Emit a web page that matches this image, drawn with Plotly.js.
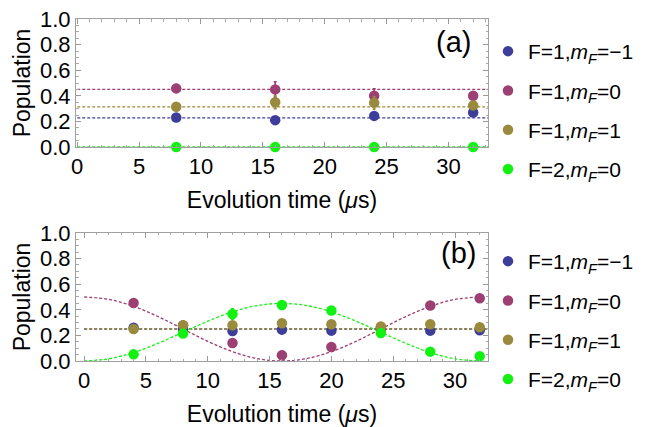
<!DOCTYPE html>
<html>
<head>
<meta charset="utf-8">
<script src="https://cdn.plot.ly/plotly-3.0.1.min.js"></script>
<style>html,body{margin:0;padding:0;background:#fff;}#chart{width:655px;height:427px;}</style>
</head>
<body>
<div id="chart"></div>
<script>
// ---------- data ----------
const seriesNames = ["F=1,<i>m</i><sub><i>F</i></sub>=\u22121", "F=1,<i>m</i><sub><i>F</i></sub>=0", "F=1,<i>m</i><sub><i>F</i></sub>=1", "F=2,<i>m</i><sub><i>F</i></sub>=0"];

// panel (a)
const aTime = [8, 16, 24, 32];
const aBlue = [0.23, 0.21, 0.243, 0.27];
const aMagenta = [0.458, 0.45, 0.40, 0.40];
const aOlive = [0.314, 0.35, 0.345, 0.325];
const aGreen = [0.0, 0.0, 0.0, 0.0];
const aBlueErr = [0.015, 0.01, 0.01, 0.01];
const aMagentaErr = [0.03, 0.06, 0.055, 0.01];
const aOliveErr = [0.015, 0.05, 0.05, 0.015];
const aGreenErr = [0.005, 0.005, 0.005, 0.005];
const aFitTime = [0, 33.2];
const aBlueFit = [0.228, 0.228];
const aMagentaFit = [0.45, 0.45];
const aOliveFit = [0.314, 0.314];
const aGreenFit = [0.0, 0.0];

// panel (b)
const bTime = [4, 8, 12, 16, 20, 24, 28, 32];
const bBlue = [0.26, 0.25, 0.234, 0.245, 0.237, 0.25, 0.237, 0.24];
const bMagenta = [0.453, 0.277, 0.14, 0.045, 0.11, 0.26, 0.433, 0.49];
const bOlive = [0.25, 0.28, 0.279, 0.295, 0.287, 0.27, 0.287, 0.263];
const bGreen = [0.052, 0.214, 0.367, 0.437, 0.394, 0.219, 0.073, 0.037];
const bBlueErr = [0.01, 0.01, 0.01, 0.01, 0.01, 0.01, 0.01, 0.01];
const bMagentaErr = [0.01, 0.01, 0.01, 0.03, 0.01, 0.01, 0.01, 0.01];
const bOliveErr = [0.01, 0.035, 0.01, 0.01, 0.01, 0.01, 0.01, 0.01];
const bGreenErr = [0.01, 0.01, 0.04, 0.01, 0.01, 0.01, 0.01, 0.01];
const bFlatTime = [0, 32.7];
const bBlueFit = [0.25, 0.25];
const bOliveFit = [0.25, 0.25];
const bCurveTime = [0, 2, 4, 6, 8, 10, 12, 14, 16, 18, 20, 22, 24, 26, 28, 30, 32];
const bMagentaFit = [0.5, 0.481, 0.427, 0.346, 0.25, 0.154, 0.073, 0.019, 0.0, 0.019, 0.073, 0.154, 0.25, 0.346, 0.427, 0.481, 0.5];
const bGreenFit = [0.0, 0.017, 0.066, 0.139, 0.225, 0.311, 0.384, 0.433, 0.45, 0.433, 0.384, 0.311, 0.225, 0.139, 0.066, 0.017, 0.0];

// ---------- styling ----------
const colors = ["#3d3d9a", "#9c3f72", "#9a8a3e", "#12f212"];
const FONT = "Liberation Sans, Arial, sans-serif";

function fitLine(x, y, c, xa, ya) {
  return {x: x, y: y, xaxis: xa, yaxis: ya, mode: "lines", type: "scatter",
    line: {color: c, width: 1.3, dash: "3px,2px", shape: "spline", smoothing: 1},
    showlegend: false, hoverinfo: "skip", cliponaxis: true};
}
function pts(x, y, err, c, name, xa, ya, leg, grp) {
  return {x: x, y: y, xaxis: xa, yaxis: ya, mode: "markers", type: "scatter", name: name,
    marker: {color: c, size: 10.5}, legend: leg, legendgroup: grp,
    error_y: {type: "data", array: err, visible: true, color: c, thickness: 1.6, width: 1.5},
    cliponaxis: false};
}

const traces = [
  fitLine(aFitTime, aBlueFit, colors[0], "x", "y"),
  fitLine(aFitTime, aMagentaFit, colors[1], "x", "y"),
  fitLine(aFitTime, aOliveFit, colors[2], "x", "y"),
  fitLine(aFitTime, aGreenFit, colors[3], "x", "y"),
  pts(aTime, aBlue, aBlueErr, colors[0], seriesNames[0], "x", "y", "legend", "a0"),
  pts(aTime, aMagenta, aMagentaErr, colors[1], seriesNames[1], "x", "y", "legend", "a1"),
  pts(aTime, aOlive, aOliveErr, colors[2], seriesNames[2], "x", "y", "legend", "a2"),
  pts(aTime, aGreen, aGreenErr, colors[3], seriesNames[3], "x", "y", "legend", "a3"),

  fitLine(bFlatTime, bBlueFit, colors[0], "x2", "y2"),
  fitLine(bCurveTime, bMagentaFit, colors[1], "x2", "y2"),
  fitLine(bFlatTime, bOliveFit, colors[2], "x2", "y2"),
  fitLine(bCurveTime, bGreenFit, colors[3], "x2", "y2"),
  pts(bTime, bBlue, bBlueErr, colors[0], seriesNames[0], "x2", "y2", "legend2", "b0"),
  pts(bTime, bMagenta, bMagentaErr, colors[1], seriesNames[1], "x2", "y2", "legend2", "b1"),
  pts(bTime, bOlive, bOliveErr, colors[2], seriesNames[2], "x2", "y2", "legend2", "b2"),
  pts(bTime, bGreen, bGreenErr, colors[3], seriesNames[3], "x2", "y2", "legend2", "b3")
];

function xAxis(range, anchor) {
  return {range: range, anchor: anchor, dtick: 5, tick0: 0, ticks: "inside", ticklen: 5, tickwidth: 1,
    tickcolor: "#999", mirror: "allticks", showline: true, linecolor: "#a0a0a0", linewidth: 1,
    showgrid: false, zeroline: false,
    minor: {dtick: 1, tick0: 0, ticks: "inside", ticklen: 2.5, tickcolor: "#aaa", showgrid: false},
    tickfont: {family: FONT, size: 22, color: "#000"},
    title: {text: "Evolution time (<i>\u03bc</i>s)", font: {family: FONT, size: 23, color: "#000"}, standoff: 13}};
}
function yAxis(domain, anchor) {
  return {range: [0, 1], domain: domain, anchor: anchor, dtick: 0.2, tick0: 0, tickformat: ".1f",
    ticks: "inside", ticklen: 5, tickwidth: 1, tickcolor: "#999", mirror: "allticks", showline: true,
    linecolor: "#a0a0a0", linewidth: 1, showgrid: false, zeroline: false,
    minor: {dtick: 0.05, tick0: 0, ticks: "inside", ticklen: 2.5, tickcolor: "#aaa", showgrid: false},
    tickfont: {family: FONT, size: 22, color: "#000"},
    title: {text: "Population", font: {family: FONT, size: 23, color: "#000"}, standoff: 2}};
}

function legendCfg(ytop) {
  return {xref: "container", yref: "container", x: 488 / 655, y: 1 - ytop / 427, xanchor: "left", yanchor: "top",
    font: {family: FONT, size: 21, color: "#000"}, bgcolor: "rgba(0,0,0,0)", tracegroupgap: 9,
    itemclick: false};
}

const layout = {
  width: 655, height: 427,
  margin: {l: 76, r: 162, t: 19, b: 66},
  paper_bgcolor: "#fff", plot_bgcolor: "#fff",
  font: {family: FONT, color: "#000"},
  xaxis: xAxis([-0.1, 33.2], "y"),
  yaxis: yAxis([0.6257, 1], "x"),
  xaxis2: xAxis([-0.66, 32.67], "y2"),
  yaxis2: yAxis([0, 0.3743], "x2"),
  legend: legendCfg(31),
  legend2: legendCfg(241),
  annotations: [
    {text: "(a)", xref: "x", yref: "y", x: 30.4, y: 0.82, showarrow: false, font: {family: FONT, size: 29, color: "#000"}},
    {text: "(b)", xref: "x2", yref: "y2", x: 30.3, y: 0.84, showarrow: false, font: {family: FONT, size: 29, color: "#000"}}
  ],
  showlegend: true
};

Plotly.newPlot("chart", traces, layout, {staticPlot: true, displayModeBar: false});
</script>
</body>
</html>
